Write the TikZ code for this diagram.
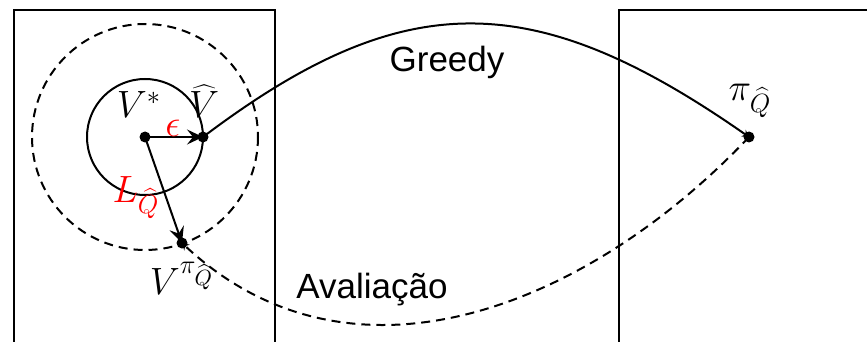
\documentclass[tikz,border=0pt]{standalone}
\usepackage{fontspec}
\newfontfamily\sansf{Liberation Sans}
\usetikzlibrary{arrows.meta}
\tikzset{
  dot/.style={circle,fill=black,inner sep=0pt,minimum size=5.5pt},
  lbl/.style={inner sep=0pt,anchor=base,scale=1.1,font=\fontsize{17.28}{21}\selectfont},
  txt/.style={inner sep=0pt,anchor=base,font=\sansf\fontsize{17.5}{21}\selectfont},
  frame/.style={line width=1pt},
  conn/.style={line width=1pt},
  arr/.style={line width=1pt,-{Stealth[length=8pt,width=7.5pt,inset=3pt]}},
  hid/.style={-{Stealth[length=3.4pt,width=4pt,inset=1.2pt]}},
  dsh/.style={line width=1pt,dash pattern=on 4.5pt off 3pt},
}
\begin{document}
\begin{tikzpicture}[x=0.5pt,y=-0.5pt]
\useasboundingbox (0,0) rectangle (867,342);
\clip (0,0) rectangle (867,342);
% frames
\draw[frame] (14,380) -- (14,10) -- (275,10) -- (275,380);
\draw[frame] (619,380) -- (619,10) -- (900,10);
% points
\coordinate (vs) at (145,137);
\coordinate (vh) at (203,137);
\coordinate (vp) at (182,243);
\coordinate (pq) at (749,137);
% circles
\draw[conn] (vs) circle[radius=58];
\draw[dsh] (vs) circle[radius=113];
% arrows
\draw[arr] (vs) -- (vh);
\draw[arr] (vs) -- (vp);
% curves
\draw[conn,hid] (vh) .. controls (403,-14) and (533,-14) .. (pq);
\draw[dsh,hid] (pq) .. controls (590,305) and (353,403) .. (vp);
% dots
\node[dot] (dvs) at (vs) {};
\node[dot] (dvh) at (vh) {};
\node[dot] (dvp) at (vp) {};
\node[dot] (dpq) at (pq) {};
% labels
\node[lbl] (lvs) at (139,118) {$V^*$};
\node[lbl] (lvh) at (204,118) {$\widehat{V}$};
\node[lbl,text=red] (leps) at (173,136) {$\epsilon$};
\node[lbl,text=red] (lL) at (136,202) {$L_{\widehat{Q}}$};
\node[lbl] (lvp) at (182,294) {$V^{\pi_{\widehat{Q}}}$};
\node[lbl] (lpq) at (750,101) {$\pi_{\widehat{Q}}$};
\node[txt] (greedy) at (447,72) {Greedy};
\node[txt] (aval) at (372,298) {Avaliação};
\end{tikzpicture}
\end{document}
